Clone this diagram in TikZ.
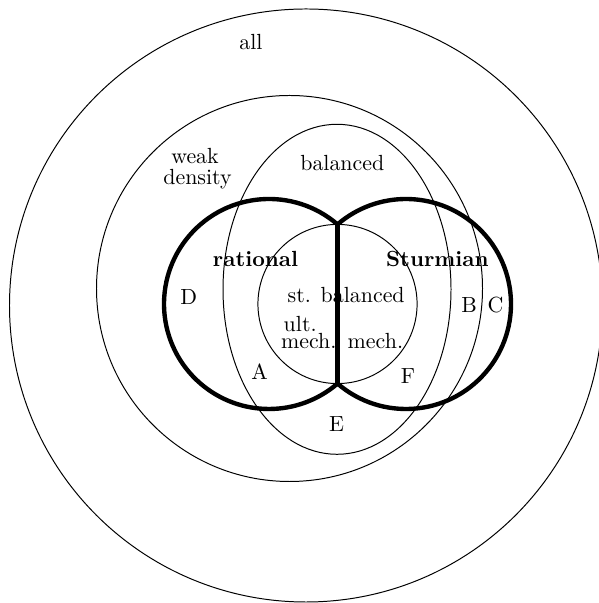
\documentclass[tikz,border=0pt]{standalone}
\begin{document}
\begin{tikzpicture}[x=0.4566pt,y=0.4566pt,
  thin line/.style={line width=0.45pt},
  thick line/.style={line width=2pt, line join=round},
  lbl/.style={inner sep=0pt, font=\normalsize},
  bold lbl/.style={inner sep=0pt, font=\bfseries}]
\useasboundingbox (0,0) rectangle (598,603);
% outer "all"
\draw[thin line] (306,297.5) circle[radius=296.5];
% weak density
\draw[thin line] (289.5,314.5) circle[radius=193];
% balanced
\draw[thin line] (337,313.7) ellipse[x radius=114, y radius=165];
% strongly balanced
\draw[thin line] (337.5,299) circle[radius=79.58];
% rational + Sturmian outline
\coordinate (top) at (337.5,378.58);
\coordinate (bot) at (337.5,219.42);
\draw[thick line] (top) arc[start angle=49.28, end angle=310.72, radius=105]
  arc[start angle=229.28, end angle=490.72, radius=105];
\draw[thick line] (top) -- (bot);
% labels
\node[lbl, anchor=base] (all) at (251,553.4) {all};
\node[lbl, anchor=base] (weak) at (195,439.7) {weak};
\node[lbl, anchor=base] (density) at (197.5,418) {density};
\node[lbl, anchor=base] (bal) at (342.3,432.5) {balanced};
\node[bold lbl, anchor=base] (rat) at (255.6,336) {rational};
\node[bold lbl, anchor=base] (stu) at (437.4,336) {Sturmian};
\node[lbl, anchor=base west] (stbal) at (287.3,300.7) {st. balanced};
\node[lbl, anchor=base west] (ult) at (283.3,271.5) {ult.};
\node[lbl, anchor=base west] (mech1) at (280.7,254.3) {mech.};
\node[lbl, anchor=base west] (mech2) at (347.3,254.3) {mech.};
\node[lbl] (D) at (188.8,305.5) {D};
\node[lbl] (A) at (259.5,231) {A};
\node[lbl] (F) at (408,227) {F};
\node[lbl] (E) at (336.6,179) {E};
\node[lbl] (B) at (469,298) {B};
\node[lbl] (C) at (495.4,298) {C};
\end{tikzpicture}
\end{document}
